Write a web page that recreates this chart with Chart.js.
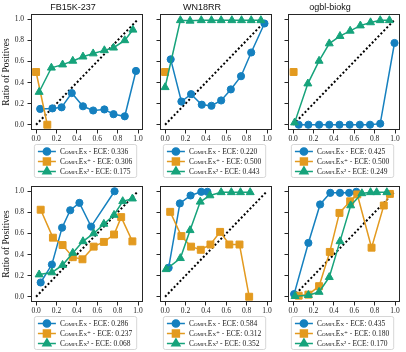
<!DOCTYPE html>
<html>
<head>
<meta charset="utf-8">
<script src="https://cdn.jsdelivr.net/npm/chart.js@4/dist/chart.umd.min.js"></script>
<style>
html, body { margin: 0; padding: 0; background: #fff; }
#wrap { position: relative; width: 406px; height: 352px; overflow: hidden; }
#wrap canvas { position: absolute; }
</style>
</head>
<body>
<div id="wrap"></div>
<script>
// panel titles, tick labels, legend names
const datasetTitles = ['FB15K-237', 'WN18RR', 'ogbl-biokg'];
const tickValues = [0.0, 0.2, 0.4, 0.6, 0.8, 1.0];
const seriesNames = ['ComplEx', 'ComplEx\u207A', 'ComplEx\u00B2'];

// ECE per panel: [ComplEx, ComplEx+, ComplEx2]
const eceTop = [[0.336, 0.306, 0.175], [0.220, 0.500, 0.443], [0.425, 0.500, 0.249]];
const eceBottom = [[0.286, 0.237, 0.068], [0.584, 0.312, 0.352], [0.435, 0.180, 0.170]];

// ---- top row ----
const fbTopComplexConf = [0.04, 0.16, 0.25, 0.35, 0.46, 0.56, 0.67, 0.76, 0.87, 0.98];
const fbTopComplexPos  = [0.15, 0.155, 0.165, 0.30, 0.175, 0.135, 0.145, 0.10, 0.08, 0.51];
const fbTopPlusConf = [0.0, 0.11];
const fbTopPlusPos  = [0.50, 0.0];
const fbTopSqConf = [0.03, 0.15, 0.26, 0.36, 0.46, 0.56, 0.67, 0.76, 0.87, 0.95];
const fbTopSqPos  = [0.31, 0.54, 0.57, 0.605, 0.645, 0.675, 0.705, 0.73, 0.80, 0.90];

const wnTopComplexConf = [0.055, 0.16, 0.255, 0.36, 0.455, 0.55, 0.645, 0.745, 0.845, 0.975];
const wnTopComplexPos  = [0.62, 0.22, 0.29, 0.19, 0.18, 0.23, 0.335, 0.46, 0.685, 0.96];
const wnTopPlusConf = [0.0];
const wnTopPlusPos  = [0.50];
const wnTopSqConf = [0.0, 0.15, 0.245, 0.355, 0.455, 0.55, 0.655, 0.75, 0.845, 0.94];
const wnTopSqPos  = [0.355, 0.99, 0.985, 0.99, 0.99, 0.99, 0.99, 0.99, 0.99, 0.99];

const ogTopComplexConf = [0.055, 0.15, 0.255, 0.355, 0.455, 0.555, 0.655, 0.755, 0.855, 0.995];
const ogTopComplexPos  = [0.0, 0.0, 0.0, 0.0, 0.0, 0.0, 0.0, 0.0, 0.01, 0.775];
const ogTopPlusConf = [0.005];
const ogTopPlusPos  = [0.50];
const ogTopSqConf = [0.015, 0.145, 0.255, 0.355, 0.46, 0.56, 0.66, 0.76, 0.855, 0.945];
const ogTopSqPos  = [0.02, 0.39, 0.605, 0.77, 0.84, 0.89, 0.94, 0.97, 0.99, 0.99];

// ---- bottom row ----
const fbBotComplexConf = [0.045, 0.155, 0.255, 0.335, 0.425, 0.54, 0.77];
const fbBotComplexPos  = [0.135, 0.305, 0.655, 0.82, 0.89, 0.665, 1.0];
const fbBotPlusConf = [0.045, 0.165, 0.26, 0.36, 0.455, 0.565, 0.665, 0.765, 0.835, 0.945];
const fbBotPlusPos  = [0.825, 0.56, 0.49, 0.375, 0.355, 0.475, 0.52, 0.59, 0.755, 0.525];
const fbBotSqConf = [0.03, 0.155, 0.26, 0.36, 0.46, 0.565, 0.665, 0.765, 0.85, 0.945];
const fbBotSqPos  = [0.21, 0.23, 0.30, 0.415, 0.525, 0.60, 0.69, 0.775, 0.905, 0.93];

const wnBotComplexConf = [0.035, 0.145, 0.25, 0.355, 0.415];
const wnBotComplexPos  = [0.275, 0.885, 0.96, 0.995, 0.995];
const wnBotPlusConf = [0.05, 0.16, 0.255, 0.35, 0.445, 0.54, 0.63, 0.73, 0.825];
const wnBotPlusPos  = [0.805, 0.575, 0.475, 0.445, 0.495, 0.615, 0.495, 0.495, 0.0];
const wnBotSqConf = [0.01, 0.15, 0.245, 0.345, 0.44, 0.55, 0.65, 0.74, 0.835];
const wnBotSqPos  = [0.26, 0.365, 0.63, 0.90, 0.96, 0.99, 0.99, 0.99, 0.99];

const ogBotComplexConf = [0.01, 0.15, 0.265, 0.365, 0.46, 0.55, 0.62];
const ogBotComplexPos  = [0.025, 0.51, 0.875, 0.985, 0.985, 0.985, 0.995];
const ogBotPlusConf = [0.055, 0.15, 0.255, 0.36, 0.455, 0.56, 0.63, 0.77, 0.89, 0.95];
const ogBotPlusPos  = [0.01, 0.02, 0.10, 0.425, 0.795, 0.905, 0.97, 0.465, 0.865, 0.975];
const ogBotSqConf = [0.02, 0.15, 0.255, 0.355, 0.46, 0.565, 0.675, 0.76, 0.82, 0.92];
const ogBotSqPos  = [0.005, 0.015, 0.045, 0.185, 0.525, 0.865, 0.98, 0.99, 0.99, 0.99];

const diagConf = [0, 1];

// layout (pixels)
const boxLeft = [31, 160, 288];
const boxTop = [14, 186];
const boxW = 115, boxH = 116;
const yAxisW = 31;

const colors = ['#1580bf', '#e39a1f', '#16a37b'];
const styles = [
    { pointStyle: 'circle', radius: 3.6 },
    { pointStyle: 'rect', radius: 4.9 },
    { pointStyle: 'triangle', radius: 4.6 }
];
const serif = '"Liberation Serif", "DejaVu Serif", serif';
const legendFont = 'small-caps 7.5px ' + serif;

const zip = (xs, ys) => xs.map((x, i) => ({ x: x, y: ys[i] }));

// box around the plot area, like matplotlib spines
const framePlugin = {
    id: 'frame',
    afterDatasetsDraw(chart) {
        const a = chart.chartArea;
        const ctx = chart.ctx;
        ctx.save();
        ctx.strokeStyle = '#262626';
        ctx.lineWidth = 1;
        ctx.strokeRect(Math.round(a.left) + 0.5, Math.round(a.top) + 0.5,
            Math.round(a.right - a.left) - 1, Math.round(a.bottom - a.top) - 1);
        ctx.restore();
    }
};

// framed legend below each panel (line + marker handles)
const boxLegendPlugin = {
    id: 'boxLegend',
    afterDraw(chart, args, opts) {
        const ctx = chart.ctx;
        const a = chart.chartArea;
        const items = opts.items || [];
        ctx.save();
        ctx.font = legendFont;
        const textW = Math.max(...items.map(it => ctx.measureText(it.label).width));
        const w = 4 + 18 + 4 + textW + 4;
        const h = 33;
        const x0 = (a.left + a.right) / 2 - 2 - w / 2;
        const y0 = a.bottom + 14;
        ctx.beginPath();
        if (ctx.roundRect) ctx.roundRect(x0 + 0.5, y0 + 0.5, w, h, 2);
        else ctx.rect(x0 + 0.5, y0 + 0.5, w, h);
        ctx.fillStyle = 'rgba(255,255,255,0.8)';
        ctx.fill();
        ctx.strokeStyle = '#cccccc';
        ctx.lineWidth = 0.8;
        ctx.stroke();
        items.forEach((it, i) => {
            const y = y0 + 7.5 + i * 10;
            const hx = x0 + 4;
            ctx.strokeStyle = it.color;
            ctx.fillStyle = it.color;
            ctx.lineWidth = 1.5;
            ctx.beginPath();
            ctx.moveTo(hx, y);
            ctx.lineTo(hx + 18, y);
            ctx.stroke();
            Chart.helpers.drawPoint(ctx, {
                pointStyle: it.style.pointStyle, radius: it.style.radius,
                rotation: 0, borderWidth: 1
            }, hx + 9, y);
            ctx.fillStyle = '#1a1a1a';
            ctx.textBaseline = 'middle';
            ctx.textAlign = 'left';
            ctx.font = legendFont;
            ctx.fillText(it.label, hx + 22, y + 0.5);
        });
        ctx.restore();
    }
};

const wrap = document.getElementById('wrap');

function makePanel(col, row, series, ece) {
    const canvas = document.createElement('canvas');
    const cw = yAxisW + boxW + 3;
    const ch = 14 + boxH + 48;
    canvas.width = cw;
    canvas.height = ch;
    canvas.style.left = (boxLeft[col] - yAxisW) + 'px';
    canvas.style.top = (boxTop[row] - 14) + 'px';
    wrap.appendChild(canvas);

    const datasets = series.map((s, i) => ({
        label: seriesNames[i],
        data: zip(s[0], s[1]),
        showLine: true,
        tension: 0,
        borderColor: colors[i],
        backgroundColor: colors[i],
        borderWidth: 1.5,
        pointStyle: styles[i].pointStyle,
        pointRadius: styles[i].radius,
        pointBorderWidth: 1,
        pointBorderColor: colors[i],
        pointBackgroundColor: colors[i],
        order: 3 - i
    }));
    datasets.push({
        label: 'ideal',
        data: zip(diagConf, diagConf),
        showLine: true,
        borderColor: '#000',
        borderWidth: 2,
        borderDash: [2, 2.2],
        pointRadius: 0,
        order: 10
    });

    const tickFont = { family: serif, size: 7.5 };
    new Chart(canvas.getContext('2d'), {
        type: 'line',
        data: { datasets: datasets },
        options: {
            responsive: false,
            animation: false,
            devicePixelRatio: 1,
            layout: { padding: { left: 0, right: 3, top: row === 0 ? 0 : 14, bottom: 34 } },
            plugins: {
                legend: { display: false },
                tooltip: { enabled: false },
                title: {
                    display: row === 0,
                    text: datasetTitles[col],
                    color: '#111',
                    font: { family: '"Liberation Sans", Arial, sans-serif', size: 9, weight: 'normal' },
                    padding: { top: 2, bottom: 1.2 }
                },
                boxLegend: {
                    items: seriesNames.map((n, i) => ({
                        label: n + ' - ECE: ' + ece[i].toFixed(3),
                        color: colors[i],
                        style: styles[i]
                    }))
                }
            },
            scales: {
                x: {
                    type: 'linear',
                    min: -0.05,
                    max: 1.05,
                    afterBuildTicks: s => { s.ticks = tickValues.map(v => ({ value: v })); },
                    afterFit: s => { s.height = 14; },
                    grid: { drawOnChartArea: false, drawTicks: true, tickLength: 3.5, tickColor: '#262626' },
                    border: { display: false },
                    ticks: { font: tickFont, color: '#222', padding: 1.5, maxRotation: 0, autoSkip: false,
                             callback: v => v.toFixed(1) }
                },
                y: {
                    type: 'linear',
                    min: -0.05,
                    max: 1.05,
                    afterBuildTicks: s => { s.ticks = tickValues.map(v => ({ value: v })); },
                    afterFit: s => { s.width = yAxisW; },
                    grid: { drawOnChartArea: false, drawTicks: true, tickLength: 3.5, tickColor: '#262626' },
                    border: { display: false },
                    title: {
                        display: col === 0,
                        text: 'Ratio of Positives',
                        color: '#111',
                        font: { family: serif, size: 9.5 },
                        padding: { top: 0.5, bottom: 0 }
                    },
                    ticks: { font: tickFont, color: '#222', padding: 3.5, autoSkip: false,
                             callback: v => col === 0 ? v.toFixed(1) : '' }
                }
            }
        },
        plugins: [framePlugin, boxLegendPlugin]
    });
}

makePanel(0, 0, [[fbTopComplexConf, fbTopComplexPos], [fbTopPlusConf, fbTopPlusPos], [fbTopSqConf, fbTopSqPos]], eceTop[0]);
makePanel(1, 0, [[wnTopComplexConf, wnTopComplexPos], [wnTopPlusConf, wnTopPlusPos], [wnTopSqConf, wnTopSqPos]], eceTop[1]);
makePanel(2, 0, [[ogTopComplexConf, ogTopComplexPos], [ogTopPlusConf, ogTopPlusPos], [ogTopSqConf, ogTopSqPos]], eceTop[2]);
makePanel(0, 1, [[fbBotComplexConf, fbBotComplexPos], [fbBotPlusConf, fbBotPlusPos], [fbBotSqConf, fbBotSqPos]], eceBottom[0]);
makePanel(1, 1, [[wnBotComplexConf, wnBotComplexPos], [wnBotPlusConf, wnBotPlusPos], [wnBotSqConf, wnBotSqPos]], eceBottom[1]);
makePanel(2, 1, [[ogBotComplexConf, ogBotComplexPos], [ogBotPlusConf, ogBotPlusPos], [ogBotSqConf, ogBotSqPos]], eceBottom[2]);
</script>
</body>
</html>
